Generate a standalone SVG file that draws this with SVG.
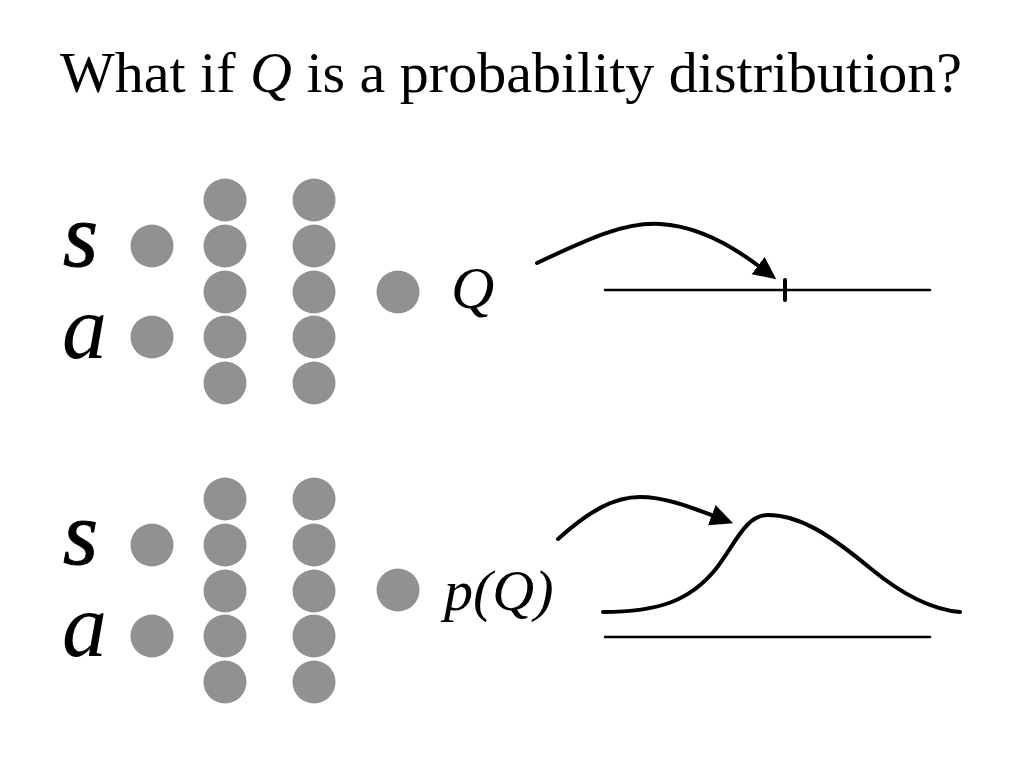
<svg xmlns="http://www.w3.org/2000/svg" width="1024" height="768" viewBox="0 0 1024 768">
<style>
.n{fill:#919191}
.t{font-family:"Liberation Serif","Times New Roman",serif;fill:#000}
.i{font-style:italic}
.ln{stroke:#000;fill:none;stroke-linecap:round}
</style>
<defs>
<marker id="ah" markerUnits="userSpaceOnUse" markerWidth="24" markerHeight="24" refX="2" refY="9" orient="auto" viewBox="0 0 20 18">
<path d="M0,0 L19,9 L0,18 Z" fill="#000"/>
</marker>
</defs>
<rect width="1024" height="768" fill="#fff"/>
<text class="t" x="60" y="92" font-size="58">What if <tspan class="i">Q</tspan> is a probability distribution?</text>

<g id="top-net">
<text class="t i" x="63" y="266" font-size="90" stroke="#000" stroke-width="1">s</text>
<text class="t i" x="62" y="358" font-size="90">a</text>
<circle class="n" cx="152" cy="246" r="21.5"/>
<circle class="n" cx="152" cy="337" r="21.5"/>
<circle class="n" cx="225" cy="200" r="21.5"/>
<circle class="n" cx="225" cy="246" r="21.5"/>
<circle class="n" cx="225" cy="292" r="21.5"/>
<circle class="n" cx="225" cy="337" r="21.5"/>
<circle class="n" cx="225" cy="383" r="21.5"/>
<circle class="n" cx="314" cy="200" r="21.5"/>
<circle class="n" cx="314" cy="246" r="21.5"/>
<circle class="n" cx="314" cy="292" r="21.5"/>
<circle class="n" cx="314" cy="337" r="21.5"/>
<circle class="n" cx="314" cy="383" r="21.5"/>
<circle class="n" cx="398" cy="292" r="21.5"/>
<text class="t i" x="451" y="308" font-size="60">Q</text>
</g>

<g id="top-axis">
<line class="ln" x1="605" y1="290" x2="930" y2="290" stroke-width="2.5" stroke-linecap="butt"/>
<line class="ln" x1="785" y1="280" x2="785" y2="300" stroke-width="4" stroke-linecap="butt"/>
</g>

<g id="bottom-net">
<text class="t i" x="63" y="564" font-size="90" stroke="#000" stroke-width="1">s</text>
<text class="t i" x="62" y="656" font-size="90">a</text>
<circle class="n" cx="152" cy="545" r="21.5"/>
<circle class="n" cx="152" cy="636" r="21.5"/>
<circle class="n" cx="225" cy="499" r="21.5"/>
<circle class="n" cx="225" cy="545" r="21.5"/>
<circle class="n" cx="225" cy="591" r="21.5"/>
<circle class="n" cx="225" cy="636" r="21.5"/>
<circle class="n" cx="225" cy="682" r="21.5"/>
<circle class="n" cx="314" cy="499" r="21.5"/>
<circle class="n" cx="314" cy="545" r="21.5"/>
<circle class="n" cx="314" cy="591" r="21.5"/>
<circle class="n" cx="314" cy="636" r="21.5"/>
<circle class="n" cx="314" cy="682" r="21.5"/>
<circle class="n" cx="398" cy="590" r="21.5"/>
<text class="t i" x="444" y="610" font-size="58">p(Q)</text>
</g>

<g id="distribution">
<path class="ln" stroke-width="4" d="M603,612 C660,612 690,600 715,570 C735,545 745,515 768,515 C800,515 830,535 870,568 C905,597 935,610 960,612"/>
<line class="ln" x1="605" y1="637" x2="930" y2="637" stroke-width="2.5" stroke-linecap="butt"/>
</g>

<g id="connectors">
<path class="ln" stroke-width="4" marker-end="url(#ah)" d="M537,263 C590,238 625,222 660,224 C700,226 735,248 760,267"/>
<path class="ln" stroke-width="4" marker-end="url(#ah)" d="M558,539 C590,510 615,497 640,497 C665,497 690,507 714,516"/>
</g>
</svg>
